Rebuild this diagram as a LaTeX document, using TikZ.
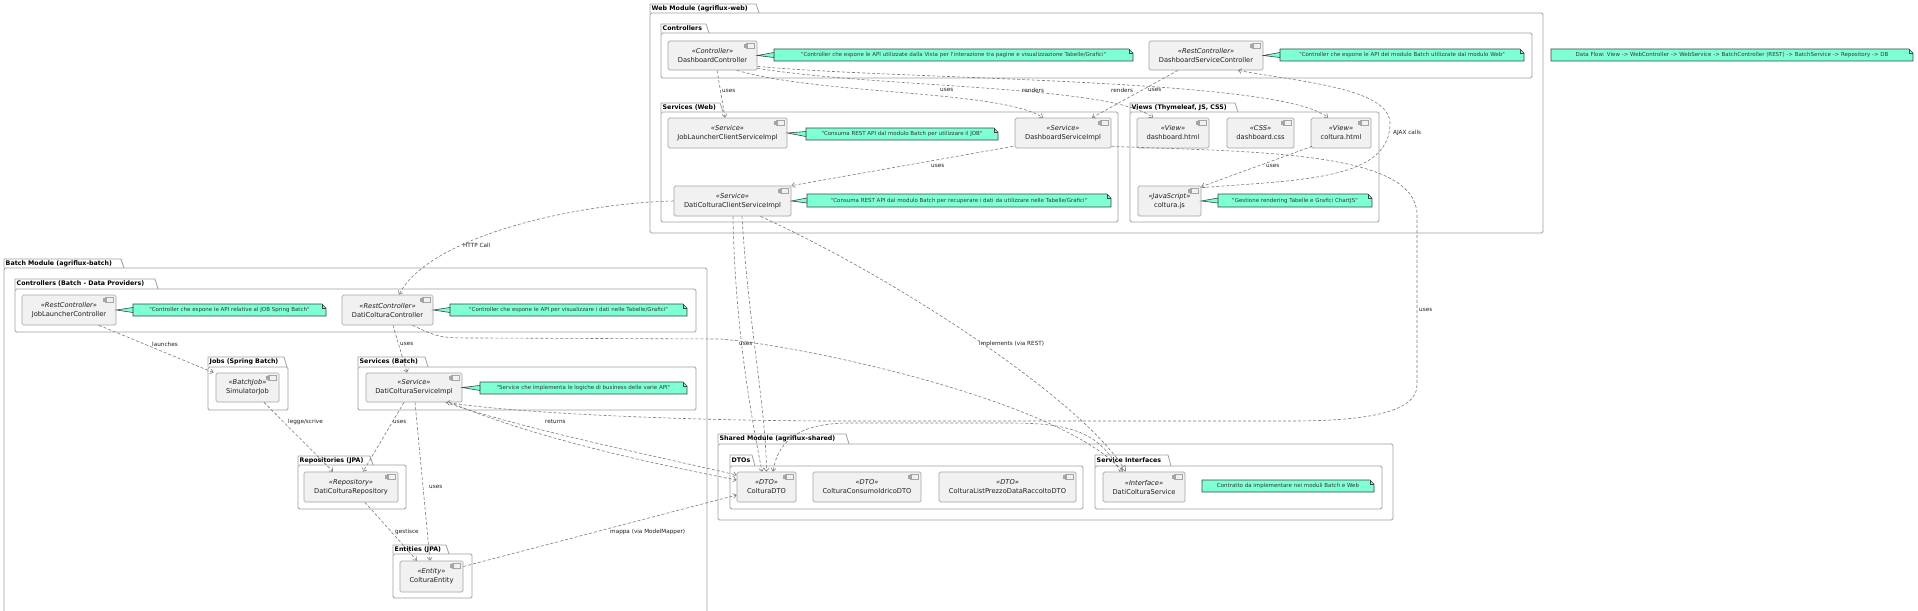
\documentclass[tikz,border=0pt]{standalone}
\usepackage{fontspec}
\setmainfont{DejaVu Sans}[Ligatures=TeXOff]
\usetikzlibrary{arrows.meta}
\definecolor{notefill}{HTML}{7FFFD4}
\definecolor{noteline}{HTML}{3A4744}
\definecolor{notetxt}{HTML}{2E3A36}
\definecolor{compfill}{HTML}{F1F1F1}
\definecolor{compline}{HTML}{A5A5A5}
\definecolor{pkgline}{HTML}{A0A0A0}
\definecolor{edgecol}{HTML}{7A7A7A}
\definecolor{txt}{HTML}{1E1E1E}
\tikzset{
  comp/.style={draw=compline, fill=compfill, line width=0.7pt, rounded corners=1.5pt,
    align=center, inner sep=0pt, text=txt, font=\fontsize{6.7}{9}\selectfont,
    path picture={
      \coordinate (ne) at (path picture bounding box.north east);
      \draw[compline, line width=0.5pt, fill=compfill, sharp corners] ([xshift=-11pt,yshift=-2.5pt]ne) rectangle ([xshift=-3pt,yshift=-7.5pt]ne);
      \draw[compline, line width=0.4pt, fill=compfill, sharp corners] ([xshift=-12.5pt,yshift=-3.5pt]ne) rectangle ([xshift=-9.5pt,yshift=-4.6pt]ne);
      \draw[compline, line width=0.4pt, fill=compfill, sharp corners] ([xshift=-12.5pt,yshift=-5.4pt]ne) rectangle ([xshift=-9.5pt,yshift=-6.5pt]ne);
    }},
  pkgl/.style={draw=pkgline, line width=0.8pt},
  pkgt/.style={font=\bfseries\fontsize{6.3}{7}\selectfont, text=black, inner sep=0pt, anchor=west},
  notes/.style={fill=notefill, draw=noteline, line width=0.6pt},
  notet/.style={font=\fontsize{5.5}{6}\selectfont, text=notetxt, inner sep=0pt},
  dep/.style={draw=edgecol, line width=0.6pt, dash pattern=on 3pt off 2pt, -{Straight Barb[length=3pt,width=5pt]}},
  impl/.style={draw=edgecol, line width=0.6pt, dash pattern=on 3pt off 2pt, -{Triangle[open,length=6pt,width=6pt,fill=white]}},
  lbl/.style={font=\fontsize{5.7}{6}\selectfont, text=txt, inner sep=0pt, anchor=west},
}
% name x1 tabtop tabR recttop x2 bottom title
\newcommand{\pkgbox}[8]{%
  \draw[pkgl, fill=white, rounded corners=1.5pt] (#2,#5) rectangle (#6,#7);
  \draw[pkgl] (#2,#5) -- (#2,#3) -- (#4,#3) -- ({#4+3},#5);
  \node[pkgt] (#1) at ({#2+1.5},{(#3+#5)/2}) {#8};
}
% name cx cy w h stereo label
\newcommand{\comp}[7]{%
  \node[comp, minimum width=#4pt, minimum height=#5pt] (#1) at (#2,#3) {\textit{«#6»}\\#7};
}
% name x1 y1 x2 y2 text
\newcommand{\notebox}[6]{%
  \filldraw[notes] (#2,#3) -- ({#4-4},#3) -- (#4,{#3+4}) -- (#4,#5) -- (#2,#5) -- cycle;
  \draw[notes, fill=none] ({#4-4},#3) -- ({#4-4},{#3+4}) -- (#4,{#3+4});
  \node[notet, minimum width={(#4-#2)*1pt}, minimum height={(#5-#3)*1pt}] (#1) at ({(#2+#4)/2},{(#3+#5)/2}) {#6};
}
\newcommand{\notewedge}[2]{%
  \filldraw[notes] (#1.east) -- ([yshift=2.5pt]#2.west) -- ([yshift=-2.5pt]#2.west) -- cycle;
}
\begin{document}
\begin{tikzpicture}[x=1pt, y=-1pt]
\useasboundingbox (0,0) rectangle (1918,610);
\fill[white] (0,0) rectangle (1918,610);
\clip (0,0) rectangle (1918,610);

% ---------- packages ----------
\pkgbox{pWeb}{650}{4}{756}{13}{1543}{233}{Web Module (agriflux-web)}
\pkgbox{pCtl}{661}{24}{706}{33}{1532}{78}{Controllers}
\pkgbox{pSvcW}{661}{103}{720}{112}{1118}{222}{Services (Web)}
\pkgbox{pViews}{1130}{103}{1235}{112}{1379}{222}{Views (Thymeleaf, JS, CSS)}
\pkgbox{pBatch}{4}{259}{121}{268}{707}{640}{Batch Module (agriflux-batch)}
\pkgbox{pCtlB}{15}{279}{155}{289}{696}{332}{Controllers (Batch - Data Providers)}
\pkgbox{pJobs}{208}{357}{284}{367}{288}{410}{Jobs (Spring Batch)}
\pkgbox{pSvcB}{358}{357}{425}{367}{696}{410}{Services (Batch)}
\pkgbox{pRepo}{298}{456}{370}{465}{406}{509}{Repositories (JPA)}
\pkgbox{pEnt}{393}{545}{446}{554}{472}{598}{Entities (JPA)}
\pkgbox{pShared}{718}{434}{846}{444}{1393}{520}{Shared Module (agriflux-shared)}
\pkgbox{pDTO}{730}{455}{752}{466}{1083}{509}{DTOs}
\pkgbox{pSI}{1095}{455}{1168}{466}{1382}{509}{Service Interfaces}

% ---------- components ----------
\comp{DC}{712.5}{55.5}{89}{29}{Controller}{DashboardController}
\comp{DSC}{1206}{55.5}{114}{29}{RestController}{DashboardServiceController}
\comp{JLCSI}{727.5}{133}{119}{30}{Service}{JobLauncherClientServiceImpl}
\comp{DSI}{1063}{133}{96}{30}{Service}{DashboardServiceImpl}
\comp{DCCSI}{732.5}{201}{117}{30}{Service}{DatiColturaClientServiceImpl}
\comp{VDH}{1173}{133}{72}{30}{View}{dashboard.html}
\comp{VDC}{1260.5}{133}{67}{30}{CSS}{dashboard.css}
\comp{VCH}{1341}{133}{60}{30}{View}{coltura.html}
\comp{VCJ}{1169.5}{201}{63}{30}{JavaScript}{coltura.js}
\comp{JLC}{69}{310}{94}{30}{RestController}{JobLauncherController}
\comp{DCC}{387.5}{310}{91}{30}{RestController}{DatiColturaController}
\comp{SJ}{247.5}{387.5}{63}{29}{BatchJob}{SimulatorJob}
\comp{DCSI}{414}{387.5}{96}{29}{Service}{DatiColturaServiceImpl}
\comp{DCR}{351}{487}{94}{30}{Repository}{DatiColturaRepository}
\comp{CE}{431.5}{576.5}{63}{31}{Entity}{ColturaEntity}
\comp{CDTO}{766.5}{487}{59}{30}{DTO}{ColturaDTO}
\comp{CCI}{867}{487}{108}{30}{DTO}{ColturaConsumoIdricoDTO}
\comp{CLP}{1007.5}{487}{137}{30}{DTO}{ColturaListPrezzoDataRaccoltoDTO}
\comp{DCS}{1144}{487}{82}{30}{Interface}{DatiColturaService}

% ---------- notes ----------
\notebox{nDC}{774}{49}{1133}{61}{"Controller che espone le API utilizzate dalla Vista per l'interazione tra pagine e visualizzazione Tabelle/Grafici"}
\notebox{nDSC}{1280}{49}{1524}{61}{"Controller che espone le API del modulo Batch utilizzate dal modulo Web"}
\notebox{nFlow}{1551}{49}{1913}{61}{Data Flow: View -> WebController -> WebService -> BatchController (REST) -> BatchService -> Repository -> DB}
\notebox{nJLCSI}{806}{128}{998}{140}{"Consuma REST API dal modulo Batch per utilizzare il JOB"}
\notebox{nDCCSI}{807}{194}{1111}{207}{"Consuma REST API dal modulo Batch per recuperare i dati da utilizzare nelle Tabelle/Grafici"}
\notebox{nJS}{1218}{194}{1372}{207}{"Gestione rendering Tabelle e Grafici ChartJS"}
\notebox{nJLC}{133}{304}{326}{316}{"Controller che espone le API relative al JOB Spring Batch"}
\notebox{nDCC}{450}{304}{687}{316}{"Controller che espone le API per visualizzare i dati nelle Tabelle/Grafici"}
\notebox{nDCSI}{480}{382}{687}{394}{"Service che implementa le logiche di business delle varie API"}
\notebox{nContr}{1202}{480}{1374}{492}{Contratto da implementare nei moduli Batch e Web}

\notewedge{DC}{nDC}
\notewedge{DSC}{nDSC}
\notewedge{JLCSI}{nJLCSI}
\notewedge{DCCSI}{nDCCSI}
\notewedge{VCJ}{nJS}
\notewedge{JLC}{nJLC}
\notewedge{DCC}{nDCC}
\notewedge{DCSI}{nDCSI}

% ---------- connectors ----------
\draw[dep] ([xshift=4.5pt]DC.south) -- ([xshift=-2.5pt]JLCSI.north);
\draw[dep] ([xshift=24.5pt]DC.south) .. controls (820,95) and (1000,90) .. ([xshift=-20pt]DSI.north);
\draw[dep] ([yshift=2pt]DC.south east) .. controls (880,88) and (1110,85) .. ([xshift=-20pt]VDH.north);
\draw[dep] ([yshift=4pt]DC.south east) .. controls (900,80) and (1280,78) .. ([xshift=-13pt]VCH.north);
\draw[dep] ([xshift=-28pt]DSC.south) -- ([xshift=29pt]DSI.north);
\draw[dep] ([xshift=-50pt,yshift=2pt]DSI.south) -- (DCCSI.north east);
\draw[dep] ([xshift=-29pt,yshift=2pt]VCH.south) -- ([yshift=-1pt]VCJ.north east);
\draw[dep] ([yshift=-2pt]VCJ.north east) .. controls (1300,180) and (1388,180) .. (1390,125) .. controls (1392,88) and (1300,82) .. ([xshift=32pt]DSC.south);
\draw[dep] ([yshift=2pt]DSI.south east) .. controls (1250,152) and (1417,150) .. (1417,215) -- (1417,385) .. controls (1417,414) and (1360,421) .. (1290,421) -- (840,421) .. controls (700,421) and (520,414) .. ([xshift=-16pt]DCSI.south east);
\draw[dep] (DCCSI.west) .. controls (580,203) and (430,235) .. ([xshift=11.5pt]DCC.north);
\draw[dep] ([xshift=30pt]JLC.south) -- ([xshift=-2pt]SJ.north west);
\draw[dep] ([xshift=5.5pt]DCC.south) -- ([xshift=-7pt]DCSI.north);
\draw[dep] ([xshift=16.5pt]SJ.south) -- ([xshift=-18pt]DCR.north);
\draw[dep] ([xshift=-10pt]DCSI.south) -- ([xshift=12pt]DCR.north);
\draw[dep] ([xshift=1pt]DCSI.south) -- ([xshift=-1.5pt]CE.north);
\draw[dep] ([xshift=14pt]DCR.south) -- ([xshift=-14.5pt]CE.north);
\draw[dep] ([yshift=10pt]CE.east) -- ([yshift=-8pt]CDTO.west);
\draw[dep] ([xshift=-17pt]DCSI.south east) .. controls (520,428) and (650,455) .. ([yshift=12pt]CDTO.west);
\draw[dep] ([xshift=-13pt]DCSI.south east) .. controls (540,440) and (660,465) .. ([yshift=7pt]CDTO.west);
\draw[dep] ([xshift=0.5pt]DCCSI.south) .. controls (735,330) and (752,420) .. ([xshift=-4.5pt]CDTO.north);
\draw[dep] ([xshift=9.5pt]DCCSI.south) .. controls (748,320) and (766,410) .. (CDTO.north);
\draw[impl] ([xshift=28pt]DCCSI.south) .. controls (900,280) and (1080,400) .. ([xshift=-18pt]DCS.north);
\draw[dep] ([xshift=25pt]DCC.south) .. controls (440,338) .. (480,338) -- (720,339) .. controls (800,345) and (1060,400) .. ([xshift=-21pt]DCS.north);
\draw[dep] ([xshift=-24pt]DCS.north) .. controls (1100,432) and (1070,423) .. (1010,423) -- (850,423) .. controls (800,423) and (778,440) .. ([xshift=6.5pt]CDTO.north);

% ---------- connector labels ----------
\node[lbl] (lb1) at (722,91) {uses};
\node[lbl] (lb2) at (940,90) {uses};
\node[lbl] (lb3) at (1022,90) {renders};
\node[lbl] (lb4) at (1111,90) {renders};
\node[lbl] (lb5) at (1148,90) {uses};
\node[lbl] (lb6) at (931,166) {uses};
\node[lbl] (lb7) at (1266,166) {uses};
\node[lbl] (lb8) at (1393,133) {AJAX calls};
\node[lbl] (lb9) at (1419,310) {uses};
\node[lbl] (lb10) at (463,245) {HTTP Call};
\node[lbl] (lb11) at (152,344) {launches};
\node[lbl] (lb12) at (400,344) {uses};
\node[lbl] (lb13) at (288,422) {legge/scrive};
\node[lbl] (lb14) at (393,422) {uses};
\node[lbl] (lb15) at (429,487) {uses};
\node[lbl] (lb16) at (395,532) {gestisce};
\node[lbl] (lb17) at (610,532) {mappa (via ModelMapper)};
\node[lbl] (lb18) at (545,422) {returns};
\node[lbl] (lb22) at (979,344) {implements (via REST)};
\node[lbl] (lb23) at (739,344) {uses};
\end{tikzpicture}
\end{document}
